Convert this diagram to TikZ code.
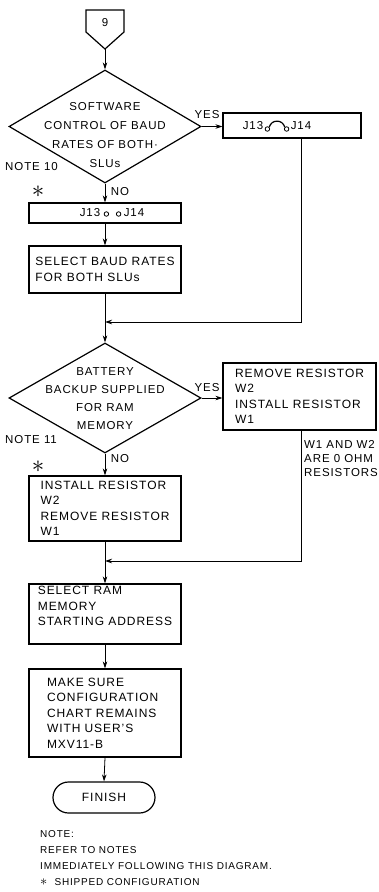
\documentclass[tikz,border=0pt]{standalone}
\usepackage{fontspec}
\setmainfont{Liberation Sans}[LetterSpace=8]
\usetikzlibrary{arrows.meta,calc,shapes.geometric,shapes.misc}

\begin{document}
\begin{tikzpicture}[x=1pt, y=-1pt, >={Stealth[length=7pt,width=4.5pt]},
    box/.style={draw, line width=1.2pt, minimum width=152pt, inner sep=0pt, align=left,
        font=\fontsize{12}{15.5}\selectfont},
    decision/.style={diamond, draw, line width=1.2pt, minimum width=192pt, inner sep=0pt},
    dtext/.style={align=center, inner sep=0pt},
    lbl/.style={inner sep=0pt, font=\fontsize{11.5}{14}\selectfont},
    starmark/.style={inner sep=0pt, font=\fontsize{24}{24}\selectfont},
    note/.style={inner sep=0pt, align=left, font=\fontsize{10}{16}\selectfont},
    pinhole/.style={circle, draw, line width=0.8pt, inner sep=0pt, minimum size=4.5pt},
    flow/.style={->, line width=0.8pt}]
    \useasboundingbox (0,0) rectangle (379,892);

    % off-page connector
    \draw[line width=1.2pt] (86,10) -- (124,10) -- (124,32) -- (105,49) -- (86,32) -- cycle;
    \node[lbl] (conn9) at (105,23) {9};
    \coordinate (conn9tip) at (105,49);

    % first decision
    \node[decision, minimum height=113pt] (dec1) at (105,126.5) {};
    \node[dtext, font=\fontsize{11.5}{19}\selectfont] (dec1txt) at (105,135)
        {SOFTWARE\\CONTROL OF BAUD\\RATES OF BOTH·\\SLUs};
    \node[lbl] (yes1) at (207,115) {YES};
    \node[lbl] (no1) at (120,192) {NO};
    \node[lbl, anchor=west] (note10) at (5,167) {NOTE 10};
    \node[starmark] (star1) at (38,192) {$\ast$};

    % jumper in
    \node[box, minimum width=138pt, minimum height=25pt] (jyes) at (292,125.5) {};
    \node[lbl] (j13b) at (253,126) {J13};
    \node[lbl] (j14b) at (301,126) {J14};
    \node[pinhole] (pinb1) at ([xshift=4pt, yshift=-3pt]j13b.east) {};
    \node[pinhole] (pinb2) at ([xshift=-4pt, yshift=-3pt]j14b.west) {};
    \draw[line width=1.2pt] (pinb1.north east) .. controls +(2,-8) and +(-2,-8) .. (pinb2.north west);

    % jumper out
    \node[box, minimum height=20pt] (jno) at (105,213) {};
    \node[lbl] (j13a) at (90,213) {J13};
    \node[lbl] (j14a) at (134,213) {J14};
    \node[pinhole] (pina1) at ([xshift=6pt, yshift=-1pt]j13a.east) {};
    \node[pinhole] (pina2) at ([xshift=-5pt, yshift=-1pt]j14a.west) {};

    \node[box, minimum height=47pt] (sel1) at (105,269.5) {SELECT BAUD RATES\\FOR BOTH SLUs};
    \coordinate (m1) at (105,322);

    % second decision
    \node[decision, minimum height=110pt] (dec2) at (105,398) {};
    \node[dtext, font=\fontsize{11.5}{18}\selectfont] (dec2txt) at (105,399)
        {BATTERY\\BACKUP SUPPLIED\\FOR RAM\\MEMORY};
    \node[lbl] (yes2) at (207,388) {YES};
    \node[lbl] (no2) at (120,459) {NO};
    \node[lbl, anchor=west] (note11) at (5,440) {NOTE 11};
    \node[starmark] (star2) at (38,467) {$\ast$};

    \node[box, minimum width=153pt, minimum height=67pt] (rmw2) at (299.5,396.5)
        {REMOVE RESISTOR\\W2\\INSTALL RESISTOR\\W1};
    \node[lbl, anchor=west, align=left] (ohm) at (304,459) {W1 AND W2\\ARE 0 OHM\\RESISTORS};

    \node[box, minimum height=65pt] (inst) at (105,508.5)
        {INSTALL RESISTOR\\W2\\REMOVE RESISTOR\\W1};
    \coordinate (m2) at (105,561);

    \node[box, minimum height=60pt] (ram) at (105,614)
        {SELECT RAM\\MEMORY\\STARTING ADDRESS\\\mbox{}};
    \node[box, minimum height=88pt, text width=116pt] (chart) at (105,713)
        {MAKE SURE\\CONFIGURATION\\CHART~REMAINS\\WITH USER'S\\MXV11-B};
    \node[draw, line width=1.2pt, rounded rectangle, minimum width=102pt, minimum height=31pt,
        inner sep=0pt, font=\fontsize{12}{14}\selectfont] (finish) at (104,797.5) {FINISH};

    % notes
    \node[note, anchor=west] (notes) at (40,850)
        {NOTE:\\REFER TO NOTES\\IMMEDIATELY FOLLOWING THIS DIAGRAM.};
    \node[note, anchor=west] (shipped) at (40,882)
        {{\fontsize{15}{15}\selectfont$\ast$}\ \ SHIPPED CONFIGURATION};

    % connectors
    \draw[flow] (conn9tip) -- (dec1.north);
    \draw[flow] (dec1.east) -- (dec1.east -| jyes.west);
    \draw[flow] (dec1.south) -- (jno.north);
    \draw[flow] (jno.south) -- (sel1.north);
    \draw[flow] (jyes.south -| j14b) |- (m1);
    \draw[flow] (sel1.south) -- (dec2.north);
    \draw[flow] (dec2.east) -- (dec2.east -| rmw2.west);
    \draw[flow] (dec2.south) -- (inst.north);
    \draw[flow] ([xshift=1.5pt]rmw2.south) |- (m2);
    \draw[flow] (inst.south) -- (ram.north);
    \draw[flow] (ram.south) -- (chart.north);
    \draw[flow] (chart.south) -- (finish.north);
\end{tikzpicture}
\end{document}
